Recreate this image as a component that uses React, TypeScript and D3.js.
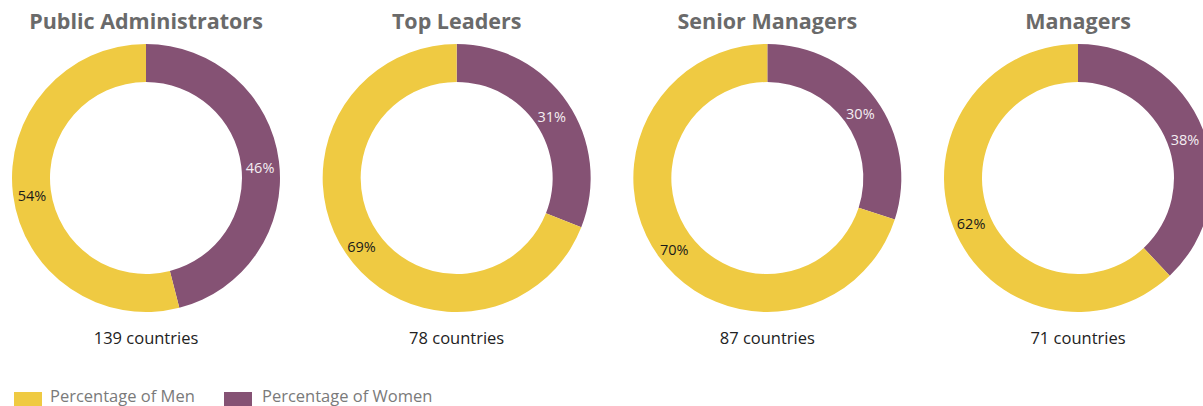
import React from "react";
import * as d3 from "d3";

const titles = ["Public Administrators", "Top Leaders", "Senior Managers", "Managers"];
const womenPct = [46, 31, 30, 38];
const menPct = [54, 69, 70, 62];
const countries = [139, 78, 87, 71];
const seriesNames = ["Percentage of Men", "Percentage of Women"];

const W = 1203;
const H = 406;
const YELLOW = "#EFCA42";
const PURPLE = "#855274";
const FONT = "'Open Sans', 'Noto Sans', sans-serif";

export default function App() {
  const x = d3.scalePoint<number>().domain(d3.range(titles.length)).range([146, 1078]);
  const cy = 178;
  const outerR = 134;
  const innerR = 96;
  const arc = d3.arc<d3.PieArcDatum<{ key: string; v: number }>>().innerRadius(innerR).outerRadius(outerR);
  const pie = d3
    .pie<{ key: string; v: number }>()
    .sort(null)
    .value((d) => d.v);

  return (
    <svg width={W} height={H} style={{ position: "absolute", left: 0, top: 0, background: "#fff" }} fontFamily={FONT}>
      {titles.map((t, i) => {
        const data = [
          { key: "women", v: womenPct[i] },
          { key: "men", v: menPct[i] },
        ];
        const arcs = pie(data);
        const cx = x(i)!;
        return (
          <g key={t}>
            <text x={cx} y={29} textAnchor="middle" fontSize={21.5} fontWeight={700} fill="#6a6a6a">
              {t}
            </text>
            <g transform={`translate(${cx},${cy})`}>
              {arcs.map((a) => (
                <path key={a.data.key} d={arc(a)!} fill={a.data.key === "women" ? PURPLE : YELLOW} />
              ))}
              {arcs.map((a) => {
                const [lx, ly] = arc.centroid(a);
                return (
                  <text
                    key={a.data.key + "l"}
                    x={lx}
                    y={ly + 4}
                    dy="0.35em"
                    textAnchor="middle"
                    fontSize={14.5}
                    fill={a.data.key === "women" ? "#f4eef2" : "#1a1a1a"}
                  >
                    {a.data.v}%
                  </text>
                );
              })}
            </g>
            <text x={cx} y={344} textAnchor="middle" fontSize={16.5} fill="#222">
              {countries[i]} countries
            </text>
          </g>
        );
      })}
      <g>
        <rect x={14} y={392} width={28} height={28} fill={YELLOW} />
        <text x={50} y={402} fontSize={16.5} fill="#7a7a7a">
          {seriesNames[0]}
        </text>
        <rect x={224} y={392} width={28} height={28} fill={PURPLE} />
        <text x={262} y={402} fontSize={16.5} fill="#7a7a7a">
          {seriesNames[1]}
        </text>
      </g>
    </svg>
  );
}
